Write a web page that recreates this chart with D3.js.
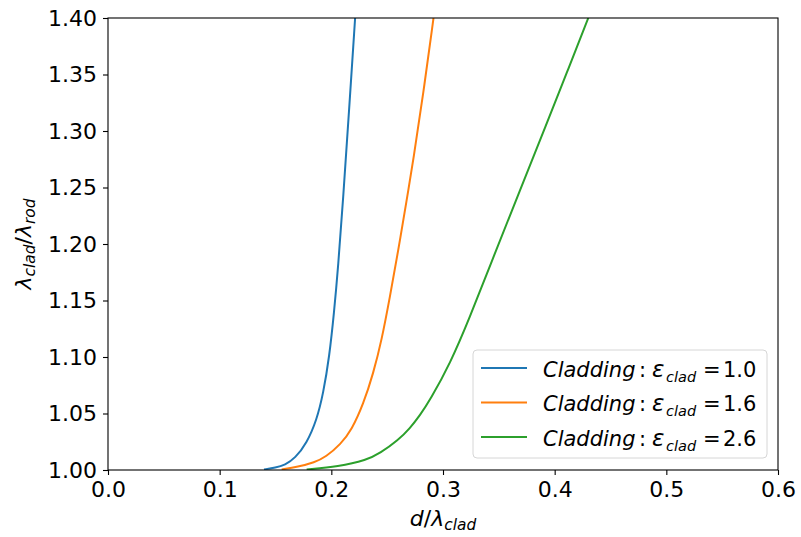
<!DOCTYPE html>
<html>
<head>
<meta charset="utf-8">
<script src="https://cdn.jsdelivr.net/npm/d3@7"></script>
<style>
  html, body { margin: 0; padding: 0; background: #ffffff; }
  svg { display: block; }
  text { font-family: "DejaVu Sans", sans-serif; }
</style>
</head>
<body>
<svg id="chart" width="801" height="537"></svg>
<script>
// ---------------- data ----------------
const xTicks = [0.0, 0.1, 0.2, 0.3, 0.4, 0.5, 0.6];
const yTicks = [1.00, 1.05, 1.10, 1.15, 1.20, 1.25, 1.30, 1.35, 1.40];

const seriesNames = ["1.0", "1.6", "2.6"];
const seriesColors = ["#1f77b4", "#ff7f0e", "#2ca02c"];

// eps_clad = 1.0
const blueX = [0.1397, 0.1500, 0.1585, 0.1675, 0.1779, 0.1869, 0.1928, 0.1982, 0.2024, 0.2061, 0.2105, 0.2159, 0.2213];
const blueY = [1.0005, 1.0020, 1.0044, 1.0104, 1.0236, 1.0442, 1.0679, 1.1003, 1.1389, 1.1799, 1.2389, 1.3186, 1.4000];
// eps_clad = 1.6
const orangeX = [0.1555, 0.1700, 0.1850, 0.1950, 0.2085, 0.2182, 0.2287, 0.2376, 0.2451, 0.2525, 0.2600, 0.2675, 0.2734, 0.2824, 0.2915];
const orangeY = [1.0005, 1.0028, 1.0068, 1.0115, 1.0230, 1.0354, 1.0584, 1.0856, 1.1150, 1.1534, 1.1947, 1.2389, 1.2743, 1.3334, 1.4000];
// eps_clad = 2.6
const greenX = [0.1779, 0.2063, 0.2317, 0.2436, 0.2600, 0.2704, 0.2794, 0.2884, 0.3063, 0.3242, 0.3421, 0.3690, 0.3929, 0.4108, 0.4301];
const greenY = [1.0005, 1.0030, 1.0088, 1.0148, 1.0265, 1.0369, 1.0484, 1.0619, 1.0938, 1.1354, 1.1810, 1.2476, 1.3069, 1.3513, 1.4000];

// ---------------- layout ----------------
const margin = {left: 108, right: 801 - 778, top: 18, bottom: 537 - 470};
const W = 801, H = 537;
const FS = 22;     // tick / axis label font size
const LFS = 21;    // legend font size

const svg = d3.select("#chart");
svg.append("rect").attr("width", W).attr("height", H).attr("fill", "#ffffff");

const x = d3.scaleLinear().domain([0, 0.6]).range([margin.left, W - margin.right]);
const y = d3.scaleLinear().domain([1.0, 1.4]).range([H - margin.bottom, margin.top]);

const series = [
  {name: seriesNames[0], color: seriesColors[0], pts: d3.zip(blueX, blueY)},
  {name: seriesNames[1], color: seriesColors[1], pts: d3.zip(orangeX, orangeY)},
  {name: seriesNames[2], color: seriesColors[2], pts: d3.zip(greenX, greenY)}
];

// clip
svg.append("clipPath").attr("id", "clip")
  .append("rect")
  .attr("x", x(0)).attr("y", y(1.4))
  .attr("width", x(0.6) - x(0)).attr("height", y(1.0) - y(1.4));

const line = d3.line()
  .x(d => x(d[0])).y(d => y(d[1]))
  .curve(d3.curveBasis);

const plot = svg.append("g").attr("clip-path", "url(#clip)");
plot.selectAll("path.series")
  .data(series)
  .join("path")
  .attr("class", "series")
  .attr("d", d => line(d.pts))
  .attr("fill", "none")
  .attr("stroke", d => d.color)
  .attr("stroke-width", 2)
  .attr("stroke-linejoin", "round")
  .attr("stroke-linecap", "butt");

// axes
const xAxis = d3.axisBottom(x).tickValues(xTicks).tickFormat(d3.format(".1f"))
  .tickSize(5).tickPadding(6);
const yAxis = d3.axisLeft(y).tickValues(yTicks).tickFormat(d3.format(".2f"))
  .tickSize(5).tickPadding(6);

const gx = svg.append("g").attr("transform", `translate(0,${y(1.0)})`).call(xAxis);
const gy = svg.append("g").attr("transform", `translate(${x(0)},0)`).call(yAxis);
[gx, gy].forEach(g => {
  g.select(".domain").remove();
  g.selectAll(".tick line").attr("stroke", "#000").attr("stroke-width", 1.1);
  g.selectAll(".tick text").attr("fill", "#000")
    .style("font-family", "'DejaVu Sans', sans-serif").style("font-size", FS + "px");
});

// spines
svg.append("rect")
  .attr("x", x(0)).attr("y", y(1.4))
  .attr("width", x(0.6) - x(0)).attr("height", y(1.0) - y(1.4))
  .attr("fill", "none").attr("stroke", "#000").attr("stroke-width", 1.1);

// axis labels
const xl = svg.append("text")
  .attr("x", (x(0) + x(0.6)) / 2).attr("y", 526)
  .attr("text-anchor", "middle")
  .style("font-size", FS + "px").attr("fill", "#000");
xl.append("tspan").style("font-style", "italic").text("d");
xl.append("tspan").text("/");
xl.append("tspan").style("font-style", "italic").text("λ");
xl.append("tspan").style("font-style", "italic").style("font-size", (FS * 0.7) + "px").attr("dy", 4).text("clad");

const yl = svg.append("text")
  .attr("transform", `translate(31,${(y(1.0) + y(1.4)) / 2}) rotate(-90)`)
  .attr("text-anchor", "middle")
  .style("font-size", FS + "px").attr("fill", "#000");
yl.append("tspan").style("font-style", "italic").text("λ");
yl.append("tspan").style("font-style", "italic").style("font-size", (FS * 0.7) + "px").attr("dy", 4).text("clad");
yl.append("tspan").attr("dy", -4).text("/");
yl.append("tspan").style("font-style", "italic").text("λ");
yl.append("tspan").style("font-style", "italic").style("font-size", (FS * 0.7) + "px").attr("dy", 4).text("rod");

// legend
const lg = svg.append("g");
lg.append("rect")
  .attr("x", 473).attr("y", 350).attr("width", 294).attr("height", 108)
  .attr("rx", 4).attr("ry", 4)
  .attr("fill", "#ffffff").attr("fill-opacity", 0.8)
  .attr("stroke", "#d6d6d6").attr("stroke-width", 1);

const rowY0 = 368, rowStep = 34.5;
series.forEach((s, i) => {
  const cy = rowY0 + i * rowStep;
  lg.append("line")
    .attr("x1", 481).attr("x2", 527).attr("y1", cy).attr("y2", cy)
    .attr("stroke", s.color).attr("stroke-width", 2);
  const t = lg.append("text").attr("y", cy + 8.5)
    .style("font-size", LFS + "px").attr("fill", "#000");
  const x0 = 543;
  t.append("tspan").attr("x", x0).style("font-style", "italic").text("Cladding");
  t.append("tspan").attr("x", x0 + 96).text(":");
  t.append("tspan").attr("x", x0 + 109).style("font-style", "italic").style("font-size", "23px").text("ε");
  t.append("tspan").attr("x", x0 + 123).attr("dy", 5)
    .style("font-style", "italic").style("font-size", "14.5px").text("clad");
  t.append("tspan").attr("x", x0 + 160).attr("dy", -5).text("=");
  t.append("tspan").attr("x", x0 + 180).text(s.name);
});
</script>
</body>
</html>
